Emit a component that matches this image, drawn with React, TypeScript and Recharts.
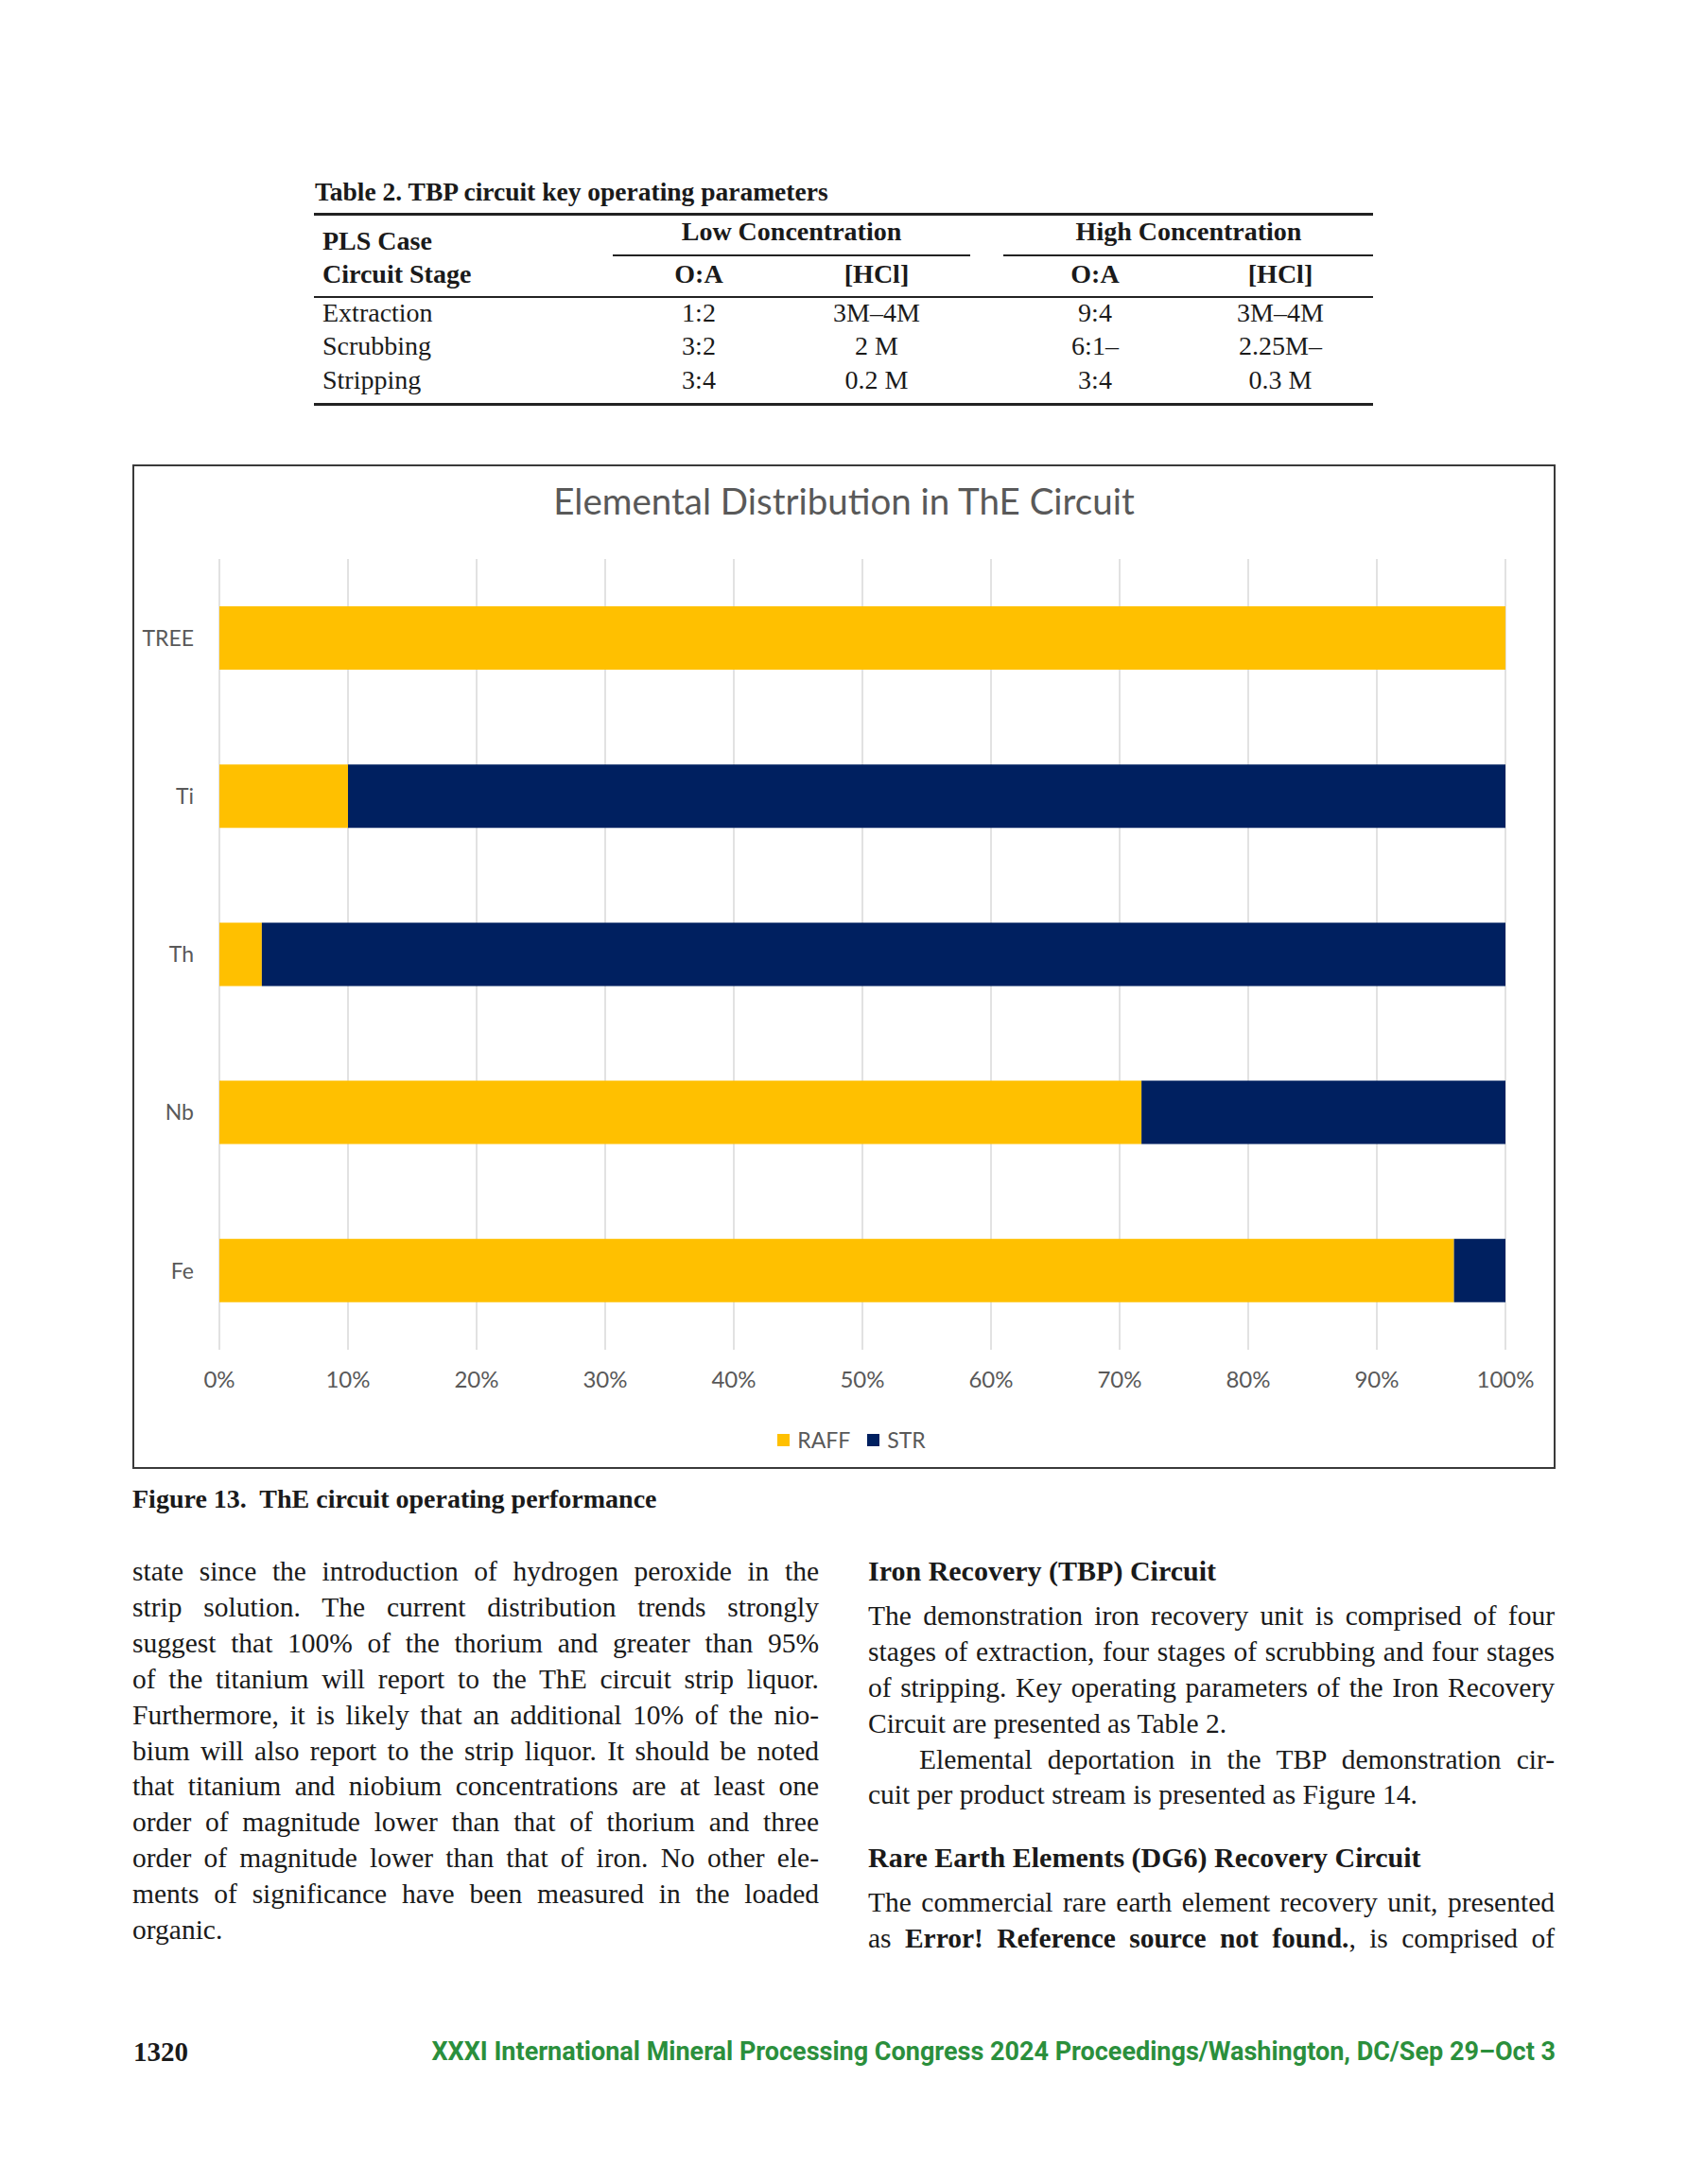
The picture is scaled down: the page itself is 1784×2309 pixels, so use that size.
import React from "react";
import { BarChart, Bar, XAxis, YAxis, CartesianGrid } from "recharts";

// chart values (percent of each element per stream)
const elements = ["TREE", "Ti", "Th", "Nb", "Fe"];
const raffPct = [100, 10, 3.3, 71.7, 96];
const strPct = [0, 90, 96.7, 28.3, 4];
const pctTicks = [0, 10, 20, 30, 40, 50, 60, 70, 80, 90, 100];

// table 2
const stages = ["Extraction", "Scrubbing", "Stripping"];
const lowOA = ["1:2", "3:2", "3:4"];
const lowHCl = ["3M–4M", "2 M", "0.2 M"];
const highOA = ["9:4", "6:1–", "3:4"];
const highHCl = ["3M–4M", "2.25M–", "0.3 M"];

const RAFF = "#FFC000";
const STR = "#002060";
const GREY = "#595959";
const SERIF = "'Liberation Serif', 'DejaVu Serif', serif";
const CHART_FONT = "Lato, 'Open Sans', sans-serif";

const leftLines = [
  "state since the introduction of hydrogen peroxide in the",
  "strip solution. The current distribution trends strongly",
  "suggest that 100% of the thorium and greater than 95%",
  "of the titanium will report to the ThE circuit strip liquor.",
  "Furthermore, it is likely that an additional 10% of the nio-",
  "bium will also report to the strip liquor. It should be noted",
  "that titanium and niobium concentrations are at least one",
  "order of magnitude lower than that of thorium and three",
  "order of magnitude lower than that of iron. No other ele-",
  "ments of significance have been measured in the loaded",
];

const rightPara1 = [
  "The demonstration iron recovery unit is comprised of four",
  "stages of extraction, four stages of scrubbing and four stages",
  "of stripping. Key operating parameters of the Iron Recovery",
];

const chartData = elements.map((name, i) => ({
  name,
  RAFF: raffPct[i],
  STR: strPct[i],
}));

function Txt({
  x,
  cy,
  w,
  size = 28,
  bold = false,
  align = "left",
  justify = false,
  font = SERIF,
  color = "#1a1a1a",
  children,
}: {
  x: number;
  cy: number;
  w?: number;
  size?: number;
  bold?: boolean;
  align?: "left" | "center" | "right";
  justify?: boolean;
  font?: string;
  color?: string;
  children: React.ReactNode;
}) {
  const lh = 40;
  return (
    <div
      style={{
        position: "absolute",
        left: x,
        top: cy - lh / 2 - 2,
        width: w,
        height: lh,
        lineHeight: `${lh}px`,
        fontFamily: font,
        fontSize: size,
        fontWeight: bold ? 700 : 400,
        color,
        textAlign: justify ? "justify" : align,
        textAlignLast: justify ? "justify" : align,
        whiteSpace: "nowrap",
      }}
    >
      {children}
    </div>
  );
}

function Rule({ x1, x2, y, h = 3 }: { x1: number; x2: number; y: number; h?: number }) {
  return (
    <div
      style={{
        position: "absolute",
        left: x1,
        top: y - h / 2,
        width: x2 - x1,
        height: h,
        background: "#222",
      }}
    />
  );
}

function Table2() {
  const rows = [333, 368, 404];
  const col = (cx: number) => ({ x: cx - 120, w: 240, align: "center" as const });
  return (
    <>
      <Txt x={333} cy={205} size={27.5} bold>
        Table 2. TBP circuit key operating parameters
      </Txt>
      <Rule x1={332} x2={1452} y={226} />
      <Txt x={341} cy={257} size={28} bold>PLS Case</Txt>
      <Txt {...col(837)} cy={247} size={28} bold>Low Concentration</Txt>
      <Txt {...col(1257)} cy={247} size={28} bold>High Concentration</Txt>
      <Rule x1={648} x2={1026} y={270} h={2.5} />
      <Rule x1={1061} x2={1452} y={270} h={2.5} />
      <Txt x={341} cy={292} size={28} bold>Circuit Stage</Txt>
      <Txt {...col(739)} cy={292} size={28} bold>O:A</Txt>
      <Txt {...col(927)} cy={292} size={28} bold>[HCl]</Txt>
      <Txt {...col(1158)} cy={292} size={28} bold>O:A</Txt>
      <Txt {...col(1354)} cy={292} size={28} bold>[HCl]</Txt>
      <Rule x1={332} x2={1452} y={314} h={2.5} />
      {stages.map((s, i) => (
        <React.Fragment key={s}>
          <Txt x={341} cy={rows[i]}>{s}</Txt>
          <Txt {...col(739)} cy={rows[i]}>{lowOA[i]}</Txt>
          <Txt {...col(927)} cy={rows[i]}>{lowHCl[i]}</Txt>
          <Txt {...col(1158)} cy={rows[i]}>{highOA[i]}</Txt>
          <Txt {...col(1354)} cy={rows[i]}>{highHCl[i]}</Txt>
        </React.Fragment>
      ))}
      <Rule x1={332} x2={1452} y={427} />
    </>
  );
}

function DistributionChart() {
  const W = 1501;
  const H = 1058;
  return (
    <div
      style={{
        position: "absolute",
        left: 140,
        top: 491,
        width: W + 4,
        height: H + 4,
        border: "2px solid #3a3a3a",
        boxSizing: "border-box",
        background: "#fff",
      }}
    >
      <div
        style={{
          position: "absolute",
          left: 0,
          top: 11,
          width: W,
          textAlign: "center",
          fontFamily: CHART_FONT,
          fontSize: 38.5,
          lineHeight: "50px",
          color: GREY,
        }}
      >
        Elemental Distribution in ThE Circuit
      </div>
      <BarChart
        width={W}
        height={H}
        data={chartData}
        layout="vertical"
        barSize={67}
        margin={{ top: 98, right: 51, bottom: 64, left: 0 }}
      >
        <CartesianGrid horizontal={false} stroke="#d9d9d9" strokeWidth={1.5} />
        <XAxis
          type="number"
          domain={[0, 100]}
          ticks={pctTicks}
          interval={0}
          tickFormatter={(v: number) => `${v}%`}
          axisLine={false}
          tickLine={false}
          tickSize={0}
          tickMargin={23}
          height={60}
          tick={{ fill: GREY, fontSize: 24, fontFamily: CHART_FONT }}
        />
        <YAxis
          type="category"
          dataKey="name"
          width={90}
          axisLine={false}
          tickLine={false}
          tickSize={0}
          tickMargin={27}
          tick={{ fill: GREY, fontSize: 23, fontFamily: CHART_FONT }}
        />
        <Bar dataKey="RAFF" stackId="a" fill={RAFF} isAnimationActive={false} />
        <Bar dataKey="STR" stackId="a" fill={STR} isAnimationActive={false} />
      </BarChart>
      {/* legend */}
      <div
        style={{
          position: "absolute",
          left: 8,
          top: 1029 - 20,
          width: W,
          height: 40,
          display: "flex",
          justifyContent: "center",
          alignItems: "center",
          gap: 18,
          fontFamily: CHART_FONT,
          fontSize: 23,
          color: GREY,
        }}
      >
        {[
          { label: "RAFF", color: RAFF },
          { label: "STR", color: STR },
        ].map((it) => (
          <div key={it.label} style={{ display: "flex", alignItems: "center", gap: 8 }}>
            <div style={{ width: 13, height: 13, background: it.color }} />
            <span>{it.label}</span>
          </div>
        ))}
      </div>
    </div>
  );
}

export default function App() {
  const step = 37.9;
  const colW = 726;
  const rx = 918;
  const body = 29.5;
  return (
    <div
      style={{
        position: "absolute",
        left: 0,
        top: 0,
        width: 1784,
        height: 2309,
        background: "#fff",
        overflow: "hidden",
      }}
    >
      <Table2 />
      <DistributionChart />

      <Txt x={140} cy={1587} size={28} bold>
        Figure 13.&nbsp; ThE circuit operating performance
      </Txt>

      {leftLines.map((l, i) => (
        <Txt key={i} x={140} w={colW} cy={1663 + i * step} size={body} justify>
          {l}
        </Txt>
      ))}
      <Txt x={140} cy={1663 + 10 * step} size={body}>organic.</Txt>

      <Txt x={rx} cy={1663} size={30} bold>Iron Recovery (TBP) Circuit</Txt>
      {rightPara1.map((l, i) => (
        <Txt key={i} x={rx} w={colW} cy={1710 + i * step} size={body} justify>
          {l}
        </Txt>
      ))}
      <Txt x={rx} cy={1710 + 3 * step} size={body}>Circuit are presented as Table 2.</Txt>
      <Txt x={rx + 54} w={colW - 54} cy={1862} size={body} justify>
        Elemental deportation in the TBP demonstration cir-
      </Txt>
      <Txt x={rx} cy={1899} size={body}>cuit per product stream is presented as Figure 14.</Txt>

      <Txt x={rx} cy={1966} size={30} bold>Rare Earth Elements (DG6) Recovery Circuit</Txt>
      <Txt x={rx} w={colW} cy={2013} size={body} justify>
        The commercial rare earth element recovery unit, presented
      </Txt>
      <Txt x={rx} w={colW} cy={2051} size={body} justify>
        as <b>Error! Reference source not found.</b>, is comprised of
      </Txt>

      <Txt x={141} cy={2171} size={29} bold>1320</Txt>
      <Txt
        x={445}
        w={1200}
        cy={2171}
        size={27}
        bold
        align="right"
        font="Roboto, 'Open Sans', sans-serif"
        color="#2b8f3c"
      >
        XXXI International Mineral Processing Congress 2024 Proceedings/Washington, DC/Sep 29–Oct 3
      </Txt>
    </div>
  );
}
